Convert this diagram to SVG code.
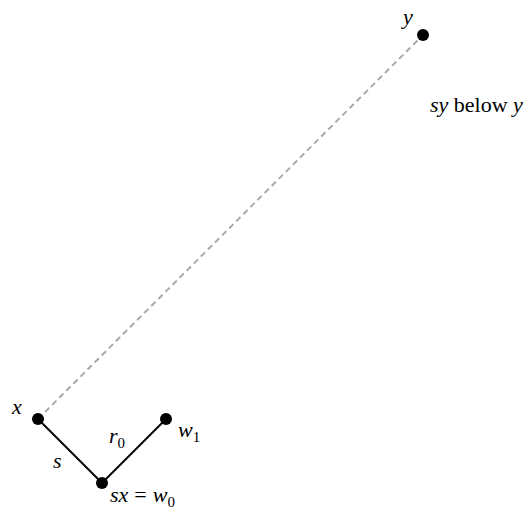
<svg xmlns="http://www.w3.org/2000/svg" width="528" height="510" viewBox="0 0 528 510">
<style>
text{font-family:"Liberation Serif","DejaVu Serif",serif;font-size:22px;fill:#000}
.i{font-style:italic}
.sub{font-size:15px}
.dot{fill:#000}
.edge{stroke:#000;stroke-width:2;fill:none}
.dash{stroke:#aaa;stroke-width:2;stroke-dasharray:6,4;fill:none}
</style>
<rect width="528" height="510" fill="#fff"/>
<g id="connectors">
<line class="dash" x1="38" y1="419" x2="423" y2="35"/>
<line class="edge" x1="38" y1="419" x2="102" y2="483"/>
<line class="edge" x1="102" y1="483" x2="166" y2="419"/>
</g>
<g id="edge-labels">
<text class="i" x="53" y="468">s</text>
<text x="109" y="443"><tspan class="i">r</tspan><tspan class="sub" dy="5">0</tspan></text>
</g>
<g id="node-x"><circle class="dot" cx="38" cy="419" r="6"/><text class="i" x="12" y="414">x</text></g>
<g id="node-sx"><circle class="dot" cx="102" cy="483" r="6"/><text x="110" y="502"><tspan class="i">sx</tspan><tspan dx="6">=</tspan><tspan class="i" dx="6">w</tspan><tspan class="sub" dy="5">0</tspan></text></g>
<g id="node-w1"><circle class="dot" cx="166" cy="419" r="6"/><text x="178" y="437"><tspan class="i">w</tspan><tspan class="sub" dy="5">1</tspan></text></g>
<g id="node-y"><circle class="dot" cx="423" cy="35" r="6"/><text class="i" x="403" y="24">y</text><text x="430" y="112"><tspan class="i">sy</tspan> below <tspan class="i">y</tspan></text></g>
</svg>
